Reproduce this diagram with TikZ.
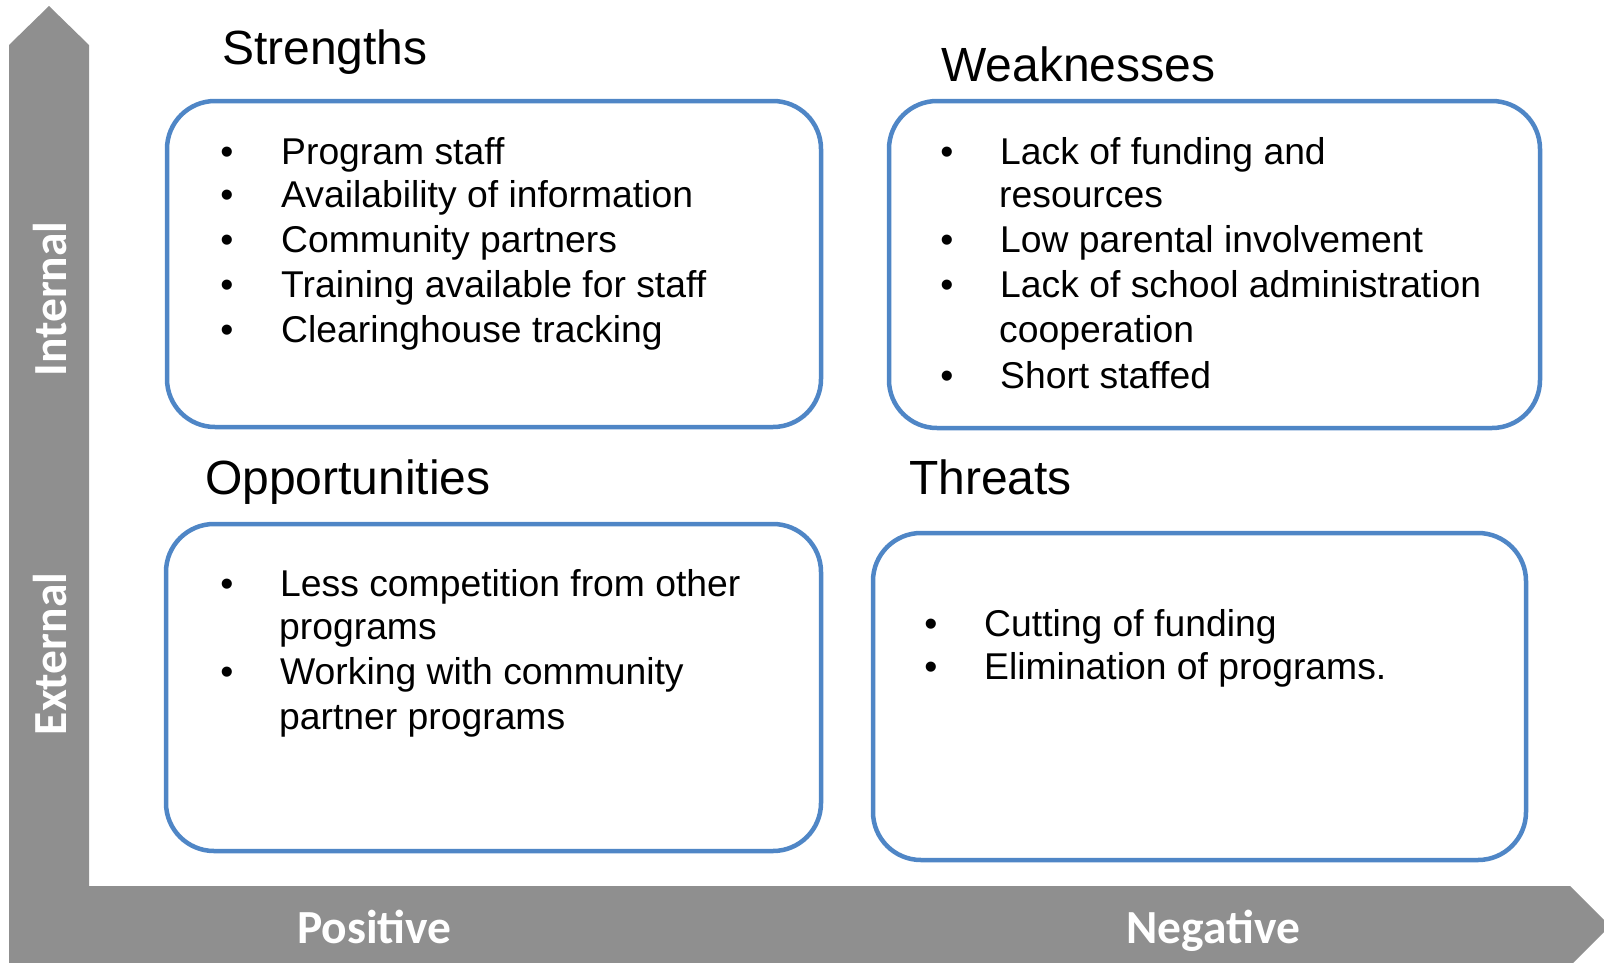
\documentclass[tikz,border=0pt]{standalone}
\usepackage{fontspec}
\setmainfont{Liberation Sans}
\newfontfamily\axisfont{Carlito}
\definecolor{axisgray}{RGB}{143,143,143}
\definecolor{boxblue}{RGB}{79,134,198}
\begin{document}
\begin{tikzpicture}[x=1pt,y=-1pt,
 box/.style={draw=boxblue, line width=4.5pt, rounded corners=48pt, fill=white, inner sep=0pt},
 title/.style={anchor=base west, inner sep=0pt, font=\fontsize{48}{57}\selectfont},
 item/.style={anchor=base west, inner sep=0pt, font=\fontsize{37.3}{44.8}\selectfont},
 dot/.style={anchor=base, inner sep=0pt, font=\fontsize{37.3}{44.8}\selectfont},
 axislabel/.style={anchor=base, inner sep=0pt, text=white, font=\axisfont\bfseries\fontsize{47.5}{57}\selectfont}]
\useasboundingbox (0,0) rectangle (1604,962);
\begin{scope}
\clip (0,0) rectangle (1604,962);
\fill[axisgray] (9,966) -- (9,45) -- (49,6) -- (89,45) -- (89,886) -- (1570,886) -- (1610,926) -- (1570,966) -- cycle;
\end{scope}
% axis labels
\node[axislabel] (pos) at (374.5,943) {Positive};
\node[axislabel] (neg) at (1213.5,943) {Negative};
\node[axislabel, rotate=90] (int) at (66,299) {Internal};
\node[axislabel, rotate=90] (ext) at (66,654) {External};
% boxes
\node[box, minimum width=654pt, minimum height=326pt] (S) at (494,264) {};
\node[box, minimum width=651pt, minimum height=327pt] (W) at (1214.5,264.5) {};
\node[box, minimum width=655pt, minimum height=327pt] (O) at (493.5,687.5) {};
\node[box, minimum width=653pt, minimum height=327pt] (T) at (1199.5,696.5) {};
% titles
\node[title] (St) at (222,64) {Strengths};
\node[title] (Wt) at (941,81) {Weaknesses};
\node[title] (Ot) at (205,494) {Opportunities};
\node[title] (Tt) at (909,494) {Threats};
% strengths
\node[dot] (sb1) at (227,164) {•};
\node[dot] (sb2) at (227,207) {•};
\node[dot] (sb3) at (227,252) {•};
\node[dot] (sb4) at (227,297) {•};
\node[dot] (sb5) at (227,342) {•};
\node[item] (s1) at (281,164) {Program staff};
\node[item] (s2) at (281,207) {Availability of information};
\node[item] (s3) at (281,252) {Community partners};
\node[item] (s4) at (281,297) {Training available for staff};
\node[item] (s5) at (281,342) {Clearinghouse tracking};
% weaknesses
\node[dot] (wb1) at (947,164) {•};
\node[dot] (wb2) at (947,252) {•};
\node[dot] (wb3) at (947,297) {•};
\node[dot] (wb4) at (947,388) {•};
\node[item] (w1) at (1000,164) {Lack of funding and};
\node[item] (w2) at (999,207) {resources};
\node[item] (w3) at (1000,252) {Low parental involvement};
\node[item] (w4) at (1000,297) {Lack of school administration};
\node[item] (w5) at (999,342) {cooperation};
\node[item] (w6) at (1000,388) {Short staffed};
% opportunities
\node[dot] (ob1) at (227,596) {•};
\node[dot] (ob2) at (227,684) {•};
\node[item] (o1) at (280,596) {Less competition from other};
\node[item] (o2) at (279,639) {programs};
\node[item] (o3) at (280,684) {Working with community};
\node[item] (o4) at (279,729) {partner programs};
% threats
\node[dot] (tb1) at (931,636) {•};
\node[dot] (tb2) at (931,679) {•};
\node[item] (t1) at (984,636) {Cutting of funding};
\node[item] (t2) at (984,679) {Elimination of programs.};
\end{tikzpicture}
\end{document}
